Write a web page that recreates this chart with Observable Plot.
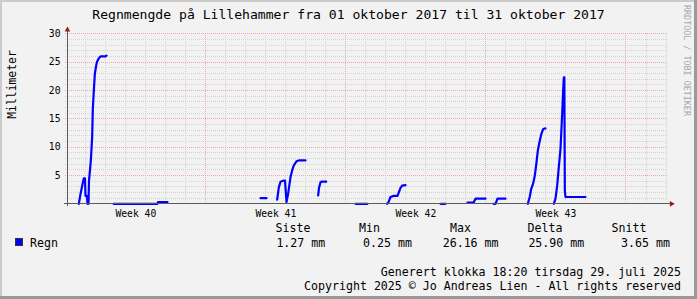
<!DOCTYPE html>
<html><head><meta charset="utf-8">
<script src="https://cdn.jsdelivr.net/npm/d3@7"></script>
<script src="https://cdn.jsdelivr.net/npm/@observablehq/plot@0.6"></script>
<style>
html,body{margin:0;padding:0;background:#fff}
#chart{position:relative;width:697px;height:299px;background:#f2f2f2;font-family:"DejaVu Sans Mono",monospace;color:#000;overflow:hidden}
.t{position:absolute;white-space:pre;line-height:1}
.fr{position:absolute}
#plot{position:absolute;left:0;top:25px}
</style></head><body><div id="chart"></div>
<script>
// ---- data (hours after 2017-10-01 00:00 UTC; null = gap) ----
const title = "Regnmengde på Lillehammer fra 01 oktober 2017 til 31 oktober 2017";
const yLabel = "Millimeter";
const hours = [
  13.6,15.6,17.6,19.6,21,21.6,23.4,24,25.2,25.8,27,28,29.6,30.4,31.6,32.8,34.4,35.6,37.6,39.6,45.6,46.8, null,
  55.2,108,108.6,120, null,
  231.6,238.8, null,
  251.6,253.6,255.6,259.6,261,262.8,264.8,267.6,269.6,271.6,274.8,277.6,285.6, null,
  300.8,301.8,303.6,304.8,310.4, null,
  345.6,360, null,
  383.6,385.2,387.6,391.6,396,397.6,399.6,401.6,405.6, null,
  447.6,453.6, null,
  480,487.2,489.6,501.6, null,
  511.2,513.6,516,525.6, null,
  552.4,554.8,556.4,558.8,560.8,562.4,564.4,566.4,568.4,570.8,573.6, null,
  583.6,585.6,587.6,589.6,591.6,593.6,594.8,595.6,596.2,596.8,597.6,621.6
];
const regn = [
  0,1.7,3.2,4.5,4.5,1.4,1.4,0,0,4.1,6,7.6,11.8,16.8,20,22.9,24.4,25.1,25.7,26,26,26.16, null,
  0,0,0.3,0.3, null,
  1.0,1.0, null,
  0.75,2.9,3.9,4.1,4.1,0.3,1.8,4.7,5.9,6.8,7.5,7.65,7.65, null,
  1.5,2.8,3.8,3.9,3.9, null,
  0,0, null,
  0,0.3,1.2,1.4,1.4,2.0,2.8,3.2,3.3, null,
  0,0, null,
  0.2,0.2,0.9,0.9, null,
  0,0,0.9,0.9, null,
  0,1.3,2.6,3.6,5,6.8,9.4,10.9,12.2,13.2,13.3, null,
  0,0.9,3.2,6.5,9.7,15.9,20,22.3,22.3,2.35,1.2,1.2
];
const yTickLabels = [5,10,15,20,25,30];
const weekLabels = ["Week 40","Week 41","Week 42","Week 43"];
const weekLabelHours = [82,250,418,586];
const weekGridHours = [166,334,502,670];
const dayGridHours = [22,46,70,94,118,142,166,190,214,238,262,286,310,334,358,382,406,430,454,478,502,526,550,574,598,622,646,670,695,719];
const legendHeaders = ["Siste","Min","Max","Delta","Snitt"];
const legendValues = ["1.27 mm","0.25 mm","26.16 mm","25.90 mm","3.65 mm"];
const seriesName = "Regn";
const footer1 = "Generert klokka 18:20 tirsdag 29. juli 2025";
const footer2 = "Copyright 2025 © Jo Andreas Lien - All rights reserved";
const watermark = "RRDTOOL / TOBI OETIKER";

const start = Date.UTC(2017, 9, 1);
const toDate = h => h == null ? null : new Date(start + h * 3600e3);
const data = hours.map((h, i) => ({t: toDate(h), v: regn[i]}));
const yMinor = d3.range(0, 31);
const yMajor = d3.range(0, 31, 5);

const minorC = "#d4d4d4", majorC = "#e6aaaa", axisC = "#5a5a5a", arrowC = "#9b1c1c";
const font = "DejaVu Sans Mono";

const chartEl = document.getElementById("chart");

const plot = Plot.plot({
  width: 697, height: 200,
  marginLeft: 67, marginRight: 30, marginTop: 8.3, marginBottom: 21.7,
  x: {type: "utc", domain: [new Date(start), toDate(720)], axis: null},
  y: {domain: [0, 30], axis: null},
  style: {background: "transparent", fontFamily: font, overflow: "visible"},
  marks: [
    Plot.ruleY(yMinor, {stroke: minorC, strokeDasharray: "1,1", insetLeft: -2, shapeRendering: "crispEdges"}),
    Plot.ruleX(dayGridHours.map(toDate), {stroke: minorC, strokeDasharray: "1,1", insetBottom: -2, shapeRendering: "crispEdges"}),
    Plot.ruleY(yMajor, {stroke: majorC, strokeDasharray: "1,1", insetLeft: -2, shapeRendering: "crispEdges"}),
    Plot.ruleX(weekGridHours.map(toDate), {stroke: majorC, strokeDasharray: "1,1", insetBottom: -2, shapeRendering: "crispEdges"}),
    Plot.line(data, {x: "t", y: "v", stroke: "#0000ff", strokeWidth: 2.2}),
    Plot.ruleY([0], {stroke: axisC, insetLeft: -3, insetRight: -3, shapeRendering: "crispEdges"}),
    Plot.ruleX([new Date(start)], {stroke: axisC, insetTop: -3, insetBottom: -3, shapeRendering: "crispEdges"}),
    Plot.dot([30], {x: () => new Date(start), y: d => d, symbol: "triangle", r: 2.1, fill: arrowC, stroke: "none", dy: -4}),
    Plot.dot([0], {x: () => toDate(720), y: d => d, symbol: "triangle", r: 2.1, fill: arrowC, stroke: "none", dx: 4, rotate: 90}),
    Plot.text(yTickLabels, {x: () => new Date(start), y: d => d, text: d => String(d), textAnchor: "end", dx: -7, fontSize: 9.7, fill: "#000"}),
    Plot.text(weekLabels, {x: (d, i) => toDate(weekLabelHours[i]), y: () => 0, text: d => d, dy: 10, fontSize: 9.7, fill: "#000"}),
    Plot.text([yLabel], {frameAnchor: "left", text: d => d, rotate: -90, dx: -55, fontSize: 11.4, fill: "#000"})
  ]
});
plot.id = "plot";

function addText(txt, opts) {
  const d = document.createElement("div");
  d.className = "t";
  d.textContent = txt;
  Object.assign(d.style, opts);
  chartEl.appendChild(d);
  return d;
}
addText(title, {left: "0px", width: "697px", textAlign: "center", top: "7.7px", fontSize: "13.1px"});
chartEl.appendChild(plot);

const headerX = [275.6, 359, 450, 527.6, 611.6];
const valueX = [276.4, 363, 442.7, 528.4, 621];
legendHeaders.forEach((h, i) => addText(h, {left: headerX[i] + "px", top: "223px", fontSize: "11.6px"}));
legendValues.forEach((v, i) => addText(v, {left: valueX[i] + "px", top: "238px", fontSize: "11.6px"}));
addText(seriesName, {left: "30px", top: "238px", fontSize: "11.6px"});
const box = document.createElement("div");
Object.assign(box.style, {position: "absolute", left: "15px", top: "238px", width: "6px", height: "6px", background: "#0000ff", border: "1px solid #333"});
chartEl.appendChild(box);
addText(footer1, {right: "16px", top: "267px", fontSize: "11.6px"});
addText(footer2, {right: "16px", top: "281px", fontSize: "11.6px"});
addText(watermark, {left: "683px", top: "5px", fontSize: "8.4px", color: "#a8a8a8", writingMode: "vertical-rl"});

// frame
[["0px","0px","697px","2px","#cbcbcb"],["0px","0px","2px","299px","#cbcbcb"],
 ["694px","0px","3px","299px","#9a9a9a"],["0px","296px","697px","3px","#9a9a9a"]].forEach(([l,t,w,h,c]) => {
  const f = document.createElement("div");
  f.className = "fr";
  Object.assign(f.style, {left: l, top: t, width: w, height: h, background: c});
  chartEl.appendChild(f);
});
</script></body></html>
